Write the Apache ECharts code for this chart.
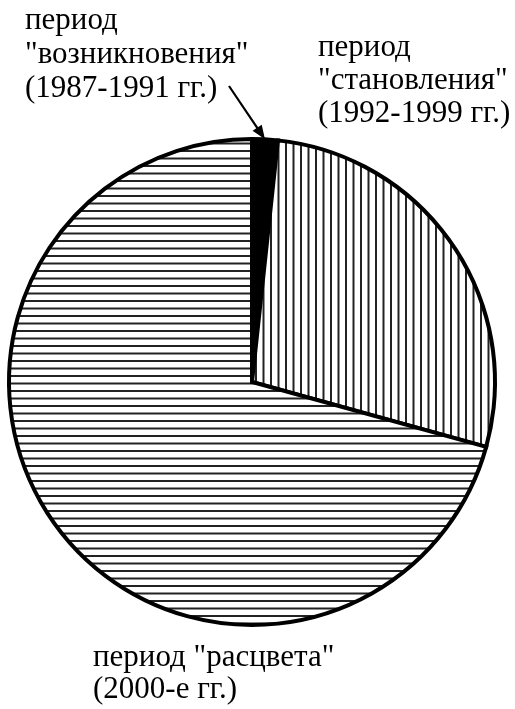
<!DOCTYPE html>
<html>
<head>
<meta charset="utf-8">
<script src="https://cdn.jsdelivr.net/npm/echarts@6/dist/echarts.min.js"></script>
<style>
html,body{margin:0;padding:0;background:#fff;}
#chart{width:515px;height:709px;}
</style>
</head>
<body>
<div id="chart"></div>
<script>
// Data
var categories = ['возникновения', 'становления', 'расцвета'];
var values = [1.7, 27.6, 70.7];
var labelTexts = [
  'период\n"возникновения"\n(1987-1991 гг.)',
  'период\n"становления"\n(1992-1999 гг.)',
  'период "расцвета"\n(2000-е гг.)'
];

var CX = 252, CY = 382, R = 243;

function makePattern(horizontal) {
  var c = document.createElement('canvas');
  c.width = 15; c.height = 15;
  var g = c.getContext('2d');
  g.fillStyle = '#fff';
  g.fillRect(0, 0, 15, 15);
  g.fillStyle = '#222';
  if (horizontal) {
    g.fillRect(0, 0, 15, 2);
    g.fillRect(0, 7.5, 15, 2);
  } else {
    g.fillRect(0, 0, 2, 15);
    g.fillRect(7.5, 0, 2, 15);
  }
  return c;
}

var fills = [
  '#000',
  { image: makePattern(false), repeat: 'repeat' },
  { image: makePattern(true), repeat: 'repeat' }
];

var labelPos = [
  { x: 25, y: 4, lh: 34 },
  { x: 318, y: 31, lh: 33 },
  { x: 93, y: 642, lh: 32 }
];

var data = categories.map(function (c, i) {
  return {
    name: c, value: values[i],
    itemStyle: { color: fills[i] },
    label: { lineHeight: labelPos[i].lh }
  };
});

// arrow to the middle of the first slice
var total = values.reduce(function (a, b) { return a + b; }, 0);
var midAng = (values[0] / total) * Math.PI; // half of slice angle, clockwise from top
var tip = [CX + R * Math.sin(midAng), CY - R * Math.cos(midAng)];
var start = [229, 86];
var dx = tip[0] - start[0], dy = tip[1] - start[1];
var len = Math.sqrt(dx * dx + dy * dy);
var ux = dx / len, uy = dy / len;
var headLen = 14, headW = 5.5;
var base = [tip[0] - ux * headLen, tip[1] - uy * headLen];
var p1 = [base[0] - uy * headW, base[1] + ux * headW];
var p2 = [base[0] + uy * headW, base[1] - ux * headW];

var chart = echarts.init(document.getElementById('chart'), null, { renderer: 'canvas' });
chart.setOption({
  backgroundColor: '#fff',
  animation: false,
  series: [{
    type: 'pie',
    center: [CX, CY],
    radius: [0, R],
    startAngle: 90,
    clockwise: true,
    avoidLabelOverlap: false,
    silent: true,
    itemStyle: { borderColor: '#000', borderWidth: 4, borderJoin: 'miter' },
    label: {
      show: true,
      position: 'outside',
      formatter: function (p) { return labelTexts[p.dataIndex]; },
      fontFamily: '"Liberation Serif", "Times New Roman", serif',
      fontSize: 31,
      lineHeight: 34,
      color: '#000',
      align: 'left'
    },
    labelLine: { show: false },
    labelLayout: function (p) {
      var lp = labelPos[p.dataIndex];
      return { x: lp.x, y: lp.y, align: 'left', verticalAlign: 'top' };
    },
    emphasis: { disabled: true },
    data: data
  }],
  graphic: [
    { type: 'line', shape: { x1: start[0], y1: start[1], x2: base[0] + ux * 2, y2: base[1] + uy * 2 }, style: { stroke: '#000', lineWidth: 2.2 }, z: 100 },
    { type: 'polygon', shape: { points: [tip, p1, p2] }, style: { fill: '#000' }, z: 100 }
  ]
});
</script>
</body>
</html>
